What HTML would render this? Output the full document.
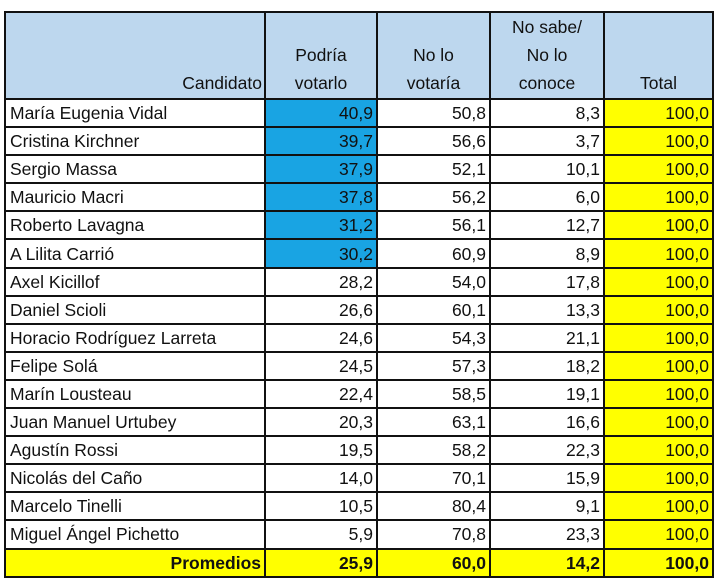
<!DOCTYPE html>
<html><head><meta charset="utf-8"><style>
body{margin:0;background:#fff;width:720px;height:582px;overflow:hidden;font-family:"Liberation Sans",sans-serif;}
table{position:absolute;left:4px;top:11px;border-collapse:collapse;table-layout:fixed;}
td{border:2px solid #111;padding:0 3px;font-size:17.5px;color:#111;height:26.1px;text-align:right;white-space:nowrap;line-height:20px;}
td:first-child{text-align:left;padding-left:4px;}
tr.h td{background:#bdd7ee;height:80px;vertical-align:bottom;text-align:center;line-height:28px;padding-bottom:1px;}
tr.h td:first-child{text-align:right;padding-right:2px;}
.b{background:#19a4e3;}
.y{background:#ffff00;}
tr.p td{background:#ffff00;font-weight:bold;}
tr.p td:first-child{text-align:right;}
</style></head><body>
<table>
<colgroup><col style="width:260px"><col style="width:112px"><col style="width:113px"><col style="width:114px"><col style="width:109px"></colgroup>
<tr class="h"><td>Candidato</td><td>Podría<br>votarlo</td><td>No lo<br>votaría</td><td>No sabe/<br>No lo<br>conoce</td><td>Total</td></tr>
<tr><td>María Eugenia Vidal</td><td class="b">40,9</td><td>50,8</td><td>8,3</td><td class="y">100,0</td></tr>
<tr><td>Cristina Kirchner</td><td class="b">39,7</td><td>56,6</td><td>3,7</td><td class="y">100,0</td></tr>
<tr><td>Sergio Massa</td><td class="b">37,9</td><td>52,1</td><td>10,1</td><td class="y">100,0</td></tr>
<tr><td>Mauricio Macri</td><td class="b">37,8</td><td>56,2</td><td>6,0</td><td class="y">100,0</td></tr>
<tr><td>Roberto Lavagna</td><td class="b">31,2</td><td>56,1</td><td>12,7</td><td class="y">100,0</td></tr>
<tr><td>A Lilita Carrió</td><td class="b">30,2</td><td>60,9</td><td>8,9</td><td class="y">100,0</td></tr>
<tr><td>Axel Kicillof</td><td>28,2</td><td>54,0</td><td>17,8</td><td class="y">100,0</td></tr>
<tr><td>Daniel Scioli</td><td>26,6</td><td>60,1</td><td>13,3</td><td class="y">100,0</td></tr>
<tr><td>Horacio Rodríguez Larreta</td><td>24,6</td><td>54,3</td><td>21,1</td><td class="y">100,0</td></tr>
<tr><td>Felipe Solá</td><td>24,5</td><td>57,3</td><td>18,2</td><td class="y">100,0</td></tr>
<tr><td>Marín Lousteau</td><td>22,4</td><td>58,5</td><td>19,1</td><td class="y">100,0</td></tr>
<tr><td>Juan Manuel Urtubey</td><td>20,3</td><td>63,1</td><td>16,6</td><td class="y">100,0</td></tr>
<tr><td>Agustín Rossi</td><td>19,5</td><td>58,2</td><td>22,3</td><td class="y">100,0</td></tr>
<tr><td>Nicolás del Caño</td><td>14,0</td><td>70,1</td><td>15,9</td><td class="y">100,0</td></tr>
<tr><td>Marcelo Tinelli</td><td>10,5</td><td>80,4</td><td>9,1</td><td class="y">100,0</td></tr>
<tr><td>Miguel Ángel Pichetto</td><td>5,9</td><td>70,8</td><td>23,3</td><td class="y">100,0</td></tr>
<tr class="p"><td>Promedios</td><td>25,9</td><td>60,0</td><td>14,2</td><td>100,0</td></tr>
</table>
</body></html>
